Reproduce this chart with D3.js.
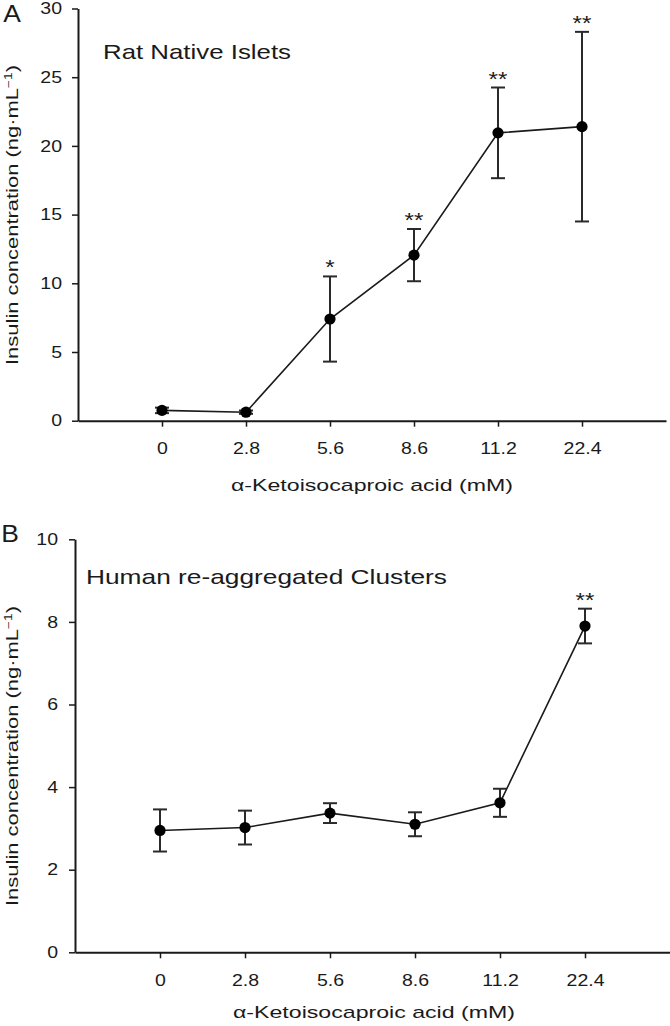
<!DOCTYPE html>
<html>
<head>
<meta charset="utf-8">
<script src="https://cdn.jsdelivr.net/npm/d3@7"></script>
<style>
  html, body { margin: 0; padding: 0; background: #fff; }
  svg { display: block; font-family: "Liberation Sans", Arial, sans-serif; }
</style>
</head>
<body>
<svg id="chart" width="670" height="1026"></svg>
<script>
// ---- data ----
const categories = ["0", "2.8", "5.6", "8.6", "11.2", "22.4"];
const ratMean = [0.75, 0.62, 7.4, 12.05, 20.95, 21.4];
const ratSem = [0.2, 0.12, 3.1, 1.9, 3.3, 6.9];
const ratSig = ["", "", "*", "**", "**", "**"];
const ratTicks = [0, 5, 10, 15, 20, 25, 30];

const humanMean = [2.95, 3.02, 3.37, 3.10, 3.62, 7.90];
const humanSem = [0.51, 0.41, 0.24, 0.29, 0.34, 0.42];
const humanSig = ["", "", "", "", "", "**"];
const humanTicks = [0, 2, 4, 6, 8, 10];

const xTitle = "α-Ketoisocaproic acid (mM)";
const yTitleMain = "Insulin concentration (ng·mL";

const svg = d3.select("#chart");
const INK = "#1a1a1a";
const SX = 1.22;

function panel(opt) {
  const g = svg.append("g");
  const x = d3.scalePoint().domain(categories).range([opt.x0, opt.x1]).padding(1);
  const y = d3.scaleLinear().domain([0, opt.yMax]).range([opt.yBottom, opt.yTop]);

  // y axis
  const ya = g.append("g").attr("transform", `translate(${opt.x0},0)`)
    .call(d3.axisLeft(y).tickValues(opt.ticks).tickSize(6).tickSizeOuter(0).tickPadding(opt.yPad));
  // x axis
  const xa = g.append("g").attr("transform", `translate(0,${opt.yBottom})`)
    .call(d3.axisBottom(x).tickSize(6).tickSizeOuter(0).tickPadding(16));
  [ya, xa].forEach(a => {
    a.select(".domain").attr("stroke", INK).attr("stroke-width", 2);
    a.selectAll(".tick line").attr("stroke", INK).attr("stroke-width", 1.5);
    a.selectAll(".tick text").attr("fill", INK).style("font-size", "16px")
      .style("font-family", '"Liberation Sans", Arial, sans-serif');
  });
  ya.selectAll(".tick text").each(function () {
    const t = d3.select(this);
    const xv = +t.attr("x");
    t.attr("x", xv / SX).attr("transform", `scale(${SX},1)`);
  });
  xa.selectAll(".tick text").attr("transform", `scale(${SX},1)`);

  // error bars
  const eb = g.append("g").attr("stroke", "#2a2a2a").attr("stroke-width", 2);
  opt.mean.forEach((m, i) => {
    const cx = x(categories[i]);
    const hi = y(m + opt.sem[i]), lo = y(m - opt.sem[i]);
    eb.append("line").attr("x1", cx).attr("x2", cx).attr("y1", hi).attr("y2", lo);
    eb.append("line").attr("x1", cx - 7).attr("x2", cx + 7).attr("y1", hi).attr("y2", hi);
    eb.append("line").attr("x1", cx - 7).attr("x2", cx + 7).attr("y1", lo).attr("y2", lo);
  });

  // connecting line
  const line = d3.line().x((d, i) => x(categories[i])).y(d => y(d));
  g.append("path").datum(opt.mean).attr("d", line)
    .attr("fill", "none").attr("stroke", INK).attr("stroke-width", 1.6);

  // points
  g.append("g").selectAll("circle").data(opt.mean).join("circle")
    .attr("cx", (d, i) => x(categories[i])).attr("cy", d => y(d))
    .attr("r", 5.6).attr("fill", "#000");

  // significance stars
  opt.mean.forEach((m, i) => {
    if (!opt.sig[i]) return;
    const cx = x(categories[i]);
    const top = y(m + opt.sem[i]);
    g.append("text")
      .attr("transform", `translate(${cx},${top - 2}) scale(1.15,1)`)
      .attr("text-anchor", "middle").attr("fill", INK)
      .style("font-size", "21px").text(opt.sig[i]);
  });

  // panel label
  g.append("text").attr("transform", `translate(${opt.labX},${opt.labY}) scale(1.15,1)`)
    .attr("text-anchor", "middle").attr("fill", INK).style("font-size", "23px").text(opt.label);

  // inner title
  g.append("text").attr("x", opt.titleX).attr("y", opt.titleY)
    .attr("textLength", opt.titleLen).attr("lengthAdjust", "spacingAndGlyphs")
    .attr("fill", INK).style("font-size", "21px").text(opt.title);

  // x axis title
  g.append("text").attr("x", opt.xtX - 141).attr("y", opt.xtY)
    .attr("textLength", 282).attr("lengthAdjust", "spacingAndGlyphs")
    .attr("fill", INK).style("font-size", "17px").text(xTitle);

  // y axis title
  const yt = g.append("text")
    .attr("transform", `translate(18,${opt.ytY}) rotate(-90)`)
    .attr("text-anchor", "middle")
    .attr("textLength", 300).attr("lengthAdjust", "spacingAndGlyphs")
    .attr("fill", INK).style("font-size", "16px");
  yt.append("tspan").text(yTitleMain);
  yt.append("tspan").attr("dy", -6).style("font-size", "10px").text("−1");
  yt.append("tspan").attr("dy", 6).text(")");
}

panel({
  x0: 78, x1: 666, yTop: 8.5, yBottom: 420.7, yMax: 30, ticks: ratTicks, yPad: 10,
  mean: ratMean, sem: ratSem, sig: ratSig,
  label: "A", labX: 12, labY: 22,
  title: "Rat Native Islets", titleX: 103, titleY: 59, titleLen: 188,
  xtX: 372, xtY: 491, ytY: 215
});

panel({
  x0: 75, x1: 670, yTop: 539.3, yBottom: 952.3, yMax: 10, ticks: humanTicks, yPad: 11,
  mean: humanMean, sem: humanSem, sig: humanSig,
  label: "B", labX: 10, labY: 542,
  title: "Human re-aggregated Clusters", titleX: 86, titleY: 584, titleLen: 361,
  xtX: 374, xtY: 1018, ytY: 756
});
</script>
</body>
</html>
